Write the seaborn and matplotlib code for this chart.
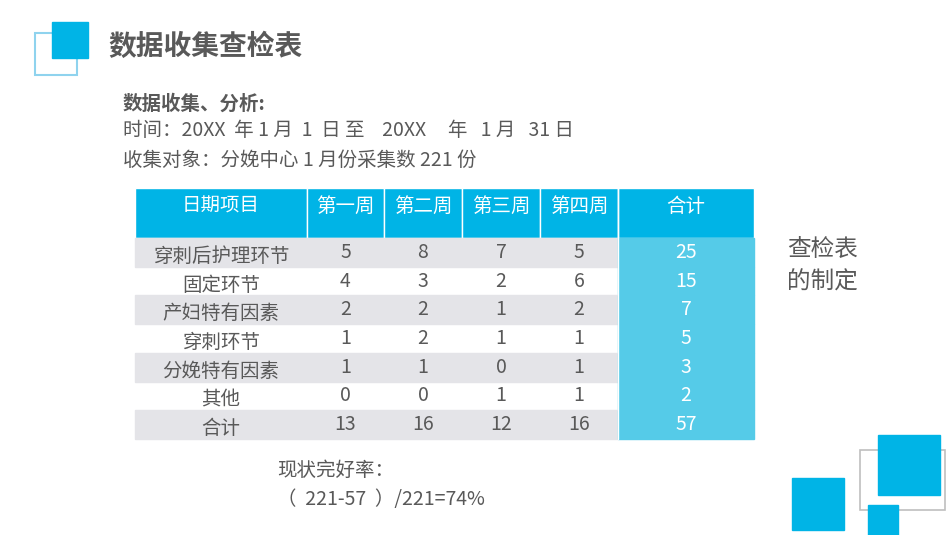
import matplotlib.pyplot as plt
import seaborn as sns
from matplotlib.patches import Rectangle

sns.set_theme(style="white")
plt.rcParams['font.family'] = ['Noto Sans CJK SC', 'DejaVu Sans']

headers = ["日期项目", "第一周", "第二周", "第三周", "第四周", "合计"]
items = ["穿刺后护理环节", "固定环节", "产妇特有因素", "穿刺环节", "分娩特有因素", "其他", "合计"]
week1 = [5, 4, 2, 1, 1, 0, 13]
week2 = [8, 3, 2, 2, 1, 0, 16]
week3 = [7, 2, 1, 1, 0, 1, 12]
week4 = [5, 6, 2, 1, 1, 1, 16]
totals = [25, 15, 7, 5, 3, 2, 57]

CYAN = "#00B4E6"
LIGHT = "#55CBE8"
GRAY = "#E4E4E8"
TXT = "#595959"

fig = plt.figure(figsize=(9.5, 5.35), dpi=100)
ax = fig.add_axes([0, 0, 1, 1])
ax.set_xlim(0, 950)
ax.set_ylim(535, 0)
ax.axis("off")

# decorations
ax.add_patch(Rectangle((35, 33), 42, 42, fill=False, ec="#8FD3EE", lw=1.5))
ax.add_patch(Rectangle((52, 22), 36, 36, color=CYAN))
ax.add_patch(Rectangle((860, 450), 85, 60, fill=False, ec="#BFBFBF", lw=1.2))
ax.add_patch(Rectangle((878, 435), 62, 60, color=CYAN))
ax.add_patch(Rectangle((792, 478), 52, 52, color=CYAN))
ax.add_patch(Rectangle((868, 505), 30, 30, color=CYAN))

ax.text(108, 47, "数据收集查检表", fontsize=20, fontweight="bold", color=TXT, va="center")
ax.text(123, 104, "数据收集、分析:", fontsize=14, fontweight="bold", color=TXT, va="center")
ax.text(123, 131, "时间：20XX  年 1 月  1  日 至    20XX     年   1 月   31 日", fontsize=14, color=TXT, va="center")
ax.text(123, 160, "收集对象：分娩中心 1 月份采集数 221 份", fontsize=14, color=TXT, va="center")

# table
col_x = [135, 307, 384, 462, 540, 618, 754]
head_top, head_bot = 188, 238
row_h = (439 - head_bot) / len(items)

for j, h in enumerate(headers):
    ax.add_patch(Rectangle((col_x[j], head_top), col_x[j + 1] - col_x[j], head_bot - head_top,
                           color=CYAN, ec="white", lw=1))
    ax.text((col_x[j] + col_x[j + 1]) / 2, 206, h, fontsize=14, color="white", ha="center", va="center")

for i, name in enumerate(items):
    y0 = head_bot + i * row_h
    if i % 2 == 0:
        ax.add_patch(Rectangle((col_x[0], y0), col_x[5] - col_x[0], row_h, color=GRAY))
    ax.add_patch(Rectangle((col_x[5], y0), col_x[6] - col_x[5], row_h, color=LIGHT))
    yc = y0 + row_h / 2
    ax.text((col_x[0] + col_x[1]) / 2, yc + 4, name, fontsize=14, color=TXT, ha="center", va="center")
    for j, vals in enumerate([week1, week2, week3, week4]):
        ax.text((col_x[j + 1] + col_x[j + 2]) / 2, yc, str(vals[i]), fontsize=14, color=TXT,
                ha="center", va="center")
    ax.text((col_x[5] + col_x[6]) / 2, yc, str(totals[i]), fontsize=14, color="white",
            ha="center", va="center")
ax.plot([col_x[5], col_x[5]], [head_top, 439], color="white", lw=1)

ax.text(787, 250, "查检表", fontsize=17, color=TXT, va="center")
ax.text(787, 282, "的制定", fontsize=17, color=TXT, va="center")

ax.text(277, 470, "现状完好率：", fontsize=14, color=TXT, va="center")
ax.text(277, 500, "（  221-57  ）/221=74%", fontsize=14, color=TXT, va="center")

fig.savefig("out.png", dpi=100)
